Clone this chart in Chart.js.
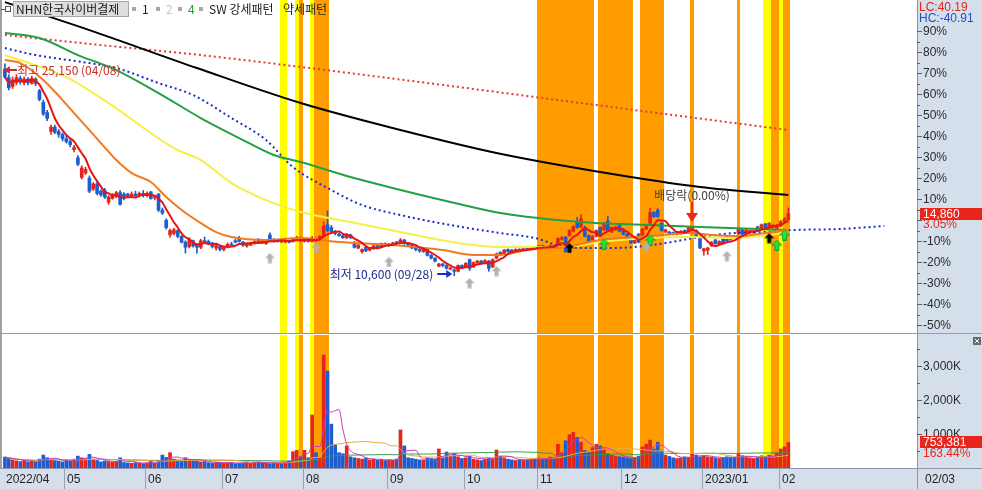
<!DOCTYPE html>
<html>
<head>
<meta charset="utf-8">
<script src="https://cdn.jsdelivr.net/npm/chart.js@4.4.1/dist/chart.umd.min.js"></script>
<style>
  body { margin: 0; background: #fff; }
  #wrap { position: relative; width: 982px; height: 489px; overflow: hidden; background: #fff; }
  canvas { position: absolute; left: 0; }
</style>
</head>
<body>
<div id="wrap">
  <canvas id="priceChart" width="982" height="334" style="top:0"></canvas>
  <canvas id="volChart" width="982" height="155" style="top:334px"></canvas>
</div>
<script>
// ---- 종목 / 날짜 ----
const stockName = 'NHN한국사이버결제';
const monthKeys = ['2022/04', '2022/05', '2022/06', '2022/07', '2022/08', '2022/09', '2022/10', '2022/11', '2022/12', '2023/01', '2023/02'];
const monthNames = ['2022/04', '05', '06', '07', '08', '09', '10', '11', '12', '2023/01', '02'];
const tradingDays = [
  [8, 11, 12, 13, 14, 15, 18, 19, 20, 21, 22, 25, 26, 27, 28, 29],
  [2, 3, 4, 6, 9, 10, 11, 12, 13, 16, 17, 18, 19, 20, 23, 24, 25, 26, 27, 30, 31],
  [2, 3, 7, 8, 9, 10, 13, 14, 15, 16, 17, 20, 21, 22, 23, 24, 27, 28, 29, 30],
  [1, 4, 5, 6, 7, 8, 11, 12, 13, 14, 15, 18, 19, 20, 21, 22, 25, 26, 27, 28, 29],
  [1, 2, 3, 4, 5, 8, 9, 10, 11, 12, 16, 17, 18, 19, 22, 23, 24, 25, 26, 29, 30, 31],
  [1, 2, 5, 6, 7, 8, 13, 14, 15, 16, 19, 20, 21, 22, 23, 26, 27, 28, 29, 30],
  [4, 5, 6, 7, 11, 12, 13, 14, 17, 18, 19, 20, 21, 24, 25, 26, 27, 28, 31],
  [1, 2, 3, 4, 7, 8, 9, 10, 11, 14, 15, 16, 17, 18, 21, 22, 23, 24, 25, 28, 29, 30],
  [1, 2, 5, 6, 7, 8, 9, 12, 13, 14, 15, 16, 19, 20, 21, 22, 23, 26, 27, 28, 29],
  [2, 3, 4, 5, 6, 9, 10, 11, 12, 13, 16, 17, 18, 19, 20, 25, 26, 27, 30, 31],
  [1, 2, 3]
];
const futureSlots = 33;

// ---- 일봉 (원) ----
const opens = [
  24800,24200,23600,23850,24150,23850,24100,23800,24100,23300,22500,21800,20500,20800,20500,20300,
  20000,19800,19250,18700,17350,17650,17300,16550,16900,16400,16450,15650,15900,16050,16300,16200,16200,16050,16200,16100,16250,
  16100,16350,15950,16200,15100,14400,13400,13500,13700,13300,12900,12600,13000,12700,12550,13000,12950,12850,12500,12600,
  12400,12550,12750,13000,13150,12900,12650,12700,12800,13100,13000,12800,13400,13100,12950,13050,12900,13000,12950,13100,13200,
  12950,13050,12950,13150,13050,13300,14100,13900,13600,13450,13350,13200,13400,12900,12500,12250,12550,12350,12450,12650,12550,12800,
  12700,12750,12900,12850,13050,12800,12700,12500,12400,12250,12400,12000,11800,11250,11400,11300,11050,11000,10900,11300,
  11200,11700,11200,11500,11600,11500,11600,11200,11800,12200,12100,12400,12350,12250,12400,12350,12450,12400,12550,
  12500,12650,12550,12500,12650,12700,13100,13250,13350,13650,14300,13950,13900,13350,13050,13300,13900,13750,14350,13600,13750,14050,
  13800,13450,13250,12850,13450,13250,13800,14200,14950,15100,14200,13600,13600,13550,13450,13500,13700,13650,13800,13700,13200,
  12300,12350,12650,13050,12750,13100,13250,13200,13300,13500,13750,13500,13550,13550,13950,13750,14150,13900,13950,13850,
  14000,14300,14450
];
const highs = [
  25150,24400,24250,24400,24300,24250,24200,24300,24200,23400,22650,21950,20950,20950,20650,20400,
  20250,19950,19550,18850,18150,18050,17450,17000,17050,16500,16600,16100,16250,16400,16450,16300,16250,16350,16400,16350,16450,
  16350,16400,16100,16250,15250,14500,13800,13850,13750,13350,13000,13200,13050,12800,13100,13250,13050,12900,12750,12650,
  12600,12850,12900,13100,13300,12950,12850,12900,13000,13150,13050,13050,13550,13150,13100,13100,13050,13050,13150,13300,13250,
  13100,13100,13300,13200,13350,14300,15050,14050,13700,13550,13400,13500,13450,12950,12750,12450,12600,12550,12700,12700,12850,12850,
  12800,12900,12950,13150,13100,12850,12750,12550,12450,12450,12450,12050,11850,11450,11450,11350,11200,11050,11350,11350,
  11500,11750,11550,11650,11650,11700,11650,11750,12150,12250,12400,12450,12400,12450,12450,12500,12500,12600,12600,
  12700,12700,12600,12700,12700,13200,13300,13300,13750,14050,14600,14800,14000,13400,13350,13750,13950,14250,14700,13950,14000,14100,
  13850,13500,13300,13100,13500,13850,14050,15250,15000,15200,14250,13800,13650,13600,13650,13700,13750,13950,14000,13750,13250,
  12500,12550,12950,13100,13000,13150,13300,13250,13350,13850,13800,13800,13750,13700,14000,14150,14200,14250,14100,14100,
  14400,14600,15250
];
const lows = [
  24150,23350,23450,23700,23750,23700,23700,23750,23650,22600,21600,21250,20300,20350,20100,19850,
  19700,19450,19100,18150,17250,17550,16300,16450,16150,16050,15900,15500,15850,15950,15450,15800,16000,15950,16050,16000,16000,
  16000,15850,15800,15000,14800,13800,13250,13400,13200,12850,12150,12500,12550,12150,12450,12850,12750,12500,12350,12300,
  12300,12500,12600,12850,12900,12600,12550,12650,12750,12850,12800,12750,13050,12900,12900,12850,12850,12850,12900,13050,12950,
  12900,12900,12900,12950,13000,13250,13600,13500,13400,13300,13150,13150,13150,12500,12450,12150,12250,12300,12400,12500,12500,12650,
  12600,12700,12800,12800,12750,12650,12450,12300,12200,12200,11950,11750,11550,11200,11200,11050,11000,10600,10850,11150,
  11150,10950,11150,11400,11400,11450,10900,11150,11750,12000,12050,12200,12200,12200,12300,12300,12350,12350,12450,
  12450,12500,12450,12450,12550,12650,13050,12200,13300,13600,13850,13900,13250,12900,13000,13250,13300,13700,13650,13550,13700,13600,
  13400,13100,12800,12800,12850,13200,13750,14150,14600,14600,13650,13550,13400,13400,13400,13450,13550,13600,13750,13250,12450,
  12000,12050,12600,12750,12700,12800,12950,13050,13150,13450,13400,13450,13500,13500,13650,13700,13800,13850,13900,13800,
  13950,14250,14400
];
const closes = [
  24250,23500,24050,24200,23900,24100,23850,24150,23800,22700,21700,21400,20800,20450,20300,20000,
  19800,19600,19400,18250,18000,17900,16400,16900,16250,16150,16000,16000,16150,16300,15500,15900,16100,16200,16100,16250,16100,
  16250,15900,16000,15100,14900,13900,13700,13750,13300,12900,12550,13100,12650,12550,13000,12900,12800,12600,12650,12400,
  12550,12750,12700,12900,12950,12700,12800,12850,12950,12900,12850,13000,13100,12950,13050,12950,13000,12900,13100,13200,13000,
  13050,12950,13150,13050,13300,14000,13700,13600,13500,13350,13200,13400,13200,12550,12700,12400,12300,12500,12650,12550,12800,12700,
  12750,12850,12850,13050,12800,12700,12500,12400,12300,12400,12000,11800,11600,11400,11300,11100,11100,10900,11300,11200,
  11450,11100,11500,11600,11450,11650,11100,11700,12100,12100,12350,12250,12250,12400,12350,12450,12400,12550,12500,
  12650,12550,12500,12650,12600,13150,13200,12250,13700,13950,13900,14500,13300,12950,13300,13700,13350,14200,13700,13900,13950,13650,
  13450,13150,12850,13050,12900,13800,14000,14950,14650,14650,13700,13750,13450,13450,13600,13650,13600,13900,13950,13300,12500,
  12450,12500,12900,12800,12950,12850,13000,13100,13200,13800,13450,13750,13700,13650,13700,14100,13850,14200,14050,14050,
  14300,14500,14860
];
// 거래량 (천주)
const volumes = [
  320,280,240,210,190,230,180,200,170,260,380,300,260,220,200,180,
  240,200,260,350,300,280,400,260,220,180,210,190,170,200,300,160,150,140,160,150,130,
  150,200,140,200,380,310,450,260,220,210,300,260,240,220,180,190,160,150,170,160,
  140,150,160,130,140,150,160,140,170,180,150,140,130,160,150,140,170,210,480,520,330,
  520,300,1560,450,300,3320,2850,1290,680,450,420,650,330,300,280,260,300,240,260,230,250,220,
  240,230,260,1120,650,300,280,260,240,230,300,280,260,560,300,470,350,420,330,280,
  300,350,260,240,220,260,300,280,530,350,300,260,240,220,250,230,240,260,280,
  300,280,260,320,300,700,450,800,980,1050,900,760,520,480,600,700,650,560,420,380,350,330,
  320,300,280,300,350,620,700,820,560,760,500,380,340,300,280,300,330,320,420,380,330,
  360,330,320,300,280,300,330,320,300,420,360,330,300,280,320,360,330,380,300,440,
  560,620,753.381
];

// ---- 이동평균선 (그림에서 읽은 값: [봉 위치, 가격]) ----
const lineRedDot = [[0,27124],[25,26437],[51,25750],[100,24171],[150,22454],[204,20600]];
const lineBlack = [[0,29390],[22,27467],[50,24858],[77,22454],[103,20600],[128,19021],[155,17716],[181,16686],[204,16137]];
const lineGreen = [[0,27261],[9,26918],[19,25750],[29,24721],[40,23141],[51,21424],[62,19914],[70,18884],[77,18403],[90,17373],[103,16480],[116,15656],[129,14901],[150,14283],[168,14077],[181,13939],[204,13733]];
const lineYellow = [[0,25750],[4,25407],[16,24240],[27,22454],[44,19364],[51,18540],[59,16961],[68,15793],[77,14969],[90,14283],[103,13596],[118,12841],[129,12566],[146,12566],[155,12909],[168,13184],[178,13253],[190,13184],[204,13527]];
const lineOrange = [[0,25407],[4,25201],[10,24034],[18,21767],[25,19707],[29,18540],[33,17647],[38,17029],[42,15999],[46,15107],[51,14214],[55,13596],[59,13253],[68,13047],[77,13184],[87,12909],[101,12703],[114,12360],[122,12017],[129,12017],[136,12360],[146,12566],[155,13047],[164,13253],[171,13390],[178,13527],[184,13390],[191,13321],[198,13527],[204,13733]];
const lineBlueDot = [[0,26231],[8,25750],[22,25201],[29,24858],[40,23828],[49,23004],[59,21424],[68,19914],[75,18060],[85,16480],[93,15450],[103,14763],[116,14077],[129,13527],[138,13184],[146,12566],[155,12497],[164,12566],[172,12841],[181,13253],[190,13527],[198,13596],[205,13733],[217,13802],[229,14008]];

// ---- 패턴 구간 [시작, 끝] / 신호 [봉 위치, 가격] ----
const strongBands = [[72,73],[76,76],[80,80],[198,199],[202,202]];
const weakBands = [[77,77],[81,84],[139,153],[155,163],[166,171],[179,179],[191,191],[200,201],[203,204]];
const greyUp = [[69,11810],[81,12500],[100,11540],[121,10090],[128,10920],[167,12570],[188,11950]];
const greenUp = [[156,12770],[168,13050],[201,12700],[203,13390]];
const blackUp = [[147,12500],[199,13180]];
const exDivIdx = 179;
const exDivText = '배당락(0.00%)';

const lastChangePct = 3.05;
const lcValue = 40.19, hcValue = -40.91;
const volRatioPct = 163.44;

// ---- 스타일 ----
const UP = '#e4251b', DOWN = '#1f5ccf';
const AXIS_BG = '#d5dfec';
const NUM_FONT = '12px "Liberation Sans", Arial, sans-serif';
const KR_FONT = '12px "Noto Sans CJK KR", sans-serif';

// ---- 테이블 구성 ----
const dates = [];
const monthStart = [];
tradingDays.forEach(function (days, m) {
    monthStart.push(dates.length);
    days.forEach(function (d) { dates.push(monthKeys[m] + '/' + String(d).padStart(2, '0')); });
});
const labels = dates.concat(Array.from({ length: futureSlots }, (_, i) => 'F' + (i + 1)));
const lastIdx = dates.length - 1;
const basePrice = closes[lastIdx] / (1 + lastChangePct / 100);
const pctToPrice = p => basePrice * (1 + p / 100);
const PCT_MAX = 104.8, PCT_MIN = -53.8;
const VOL_MAX = 3912;

const candleColors = closes.map((c, i) => c >= opens[i] ? UP : DOWN);

function sparse(points) {
    const arr = new Array(labels.length).fill(null);
    points.forEach(function (p) { arr[p[0]] = p[1]; });
    return arr;
}
function movingAvg(arr, n) {
    return arr.map(function (v, i) {
        const s = arr.slice(Math.max(0, i - n + 1), i + 1);
        return s.reduce((a, b) => a + b, 0) / s.length;
    });
}
function line(data, color, width, dash, order) {
    return {
        type: 'line', data: data, borderColor: color, borderWidth: width, borderDash: dash || [],
        pointRadius: 0, spanGaps: true, cubicInterpolationMode: 'monotone', order: order
    };
}
function arrowImg(fill, stroke) {
    const c = document.createElement('canvas');
    c.width = 11; c.height = 11;
    const g = c.getContext('2d');
    g.beginPath();
    g.moveTo(5.5, 0.5); g.lineTo(10.5, 5.5); g.lineTo(7.5, 5.5); g.lineTo(7.5, 10.5);
    g.lineTo(3.5, 10.5); g.lineTo(3.5, 5.5); g.lineTo(0.5, 5.5); g.closePath();
    g.fillStyle = fill; g.fill();
    if (stroke) { g.strokeStyle = stroke; g.lineWidth = 1; g.stroke(); }
    return c;
}
function fmt(n) { return Math.round(n).toLocaleString('en-US'); }

function drawBands(chart) {
    const ctx = chart.ctx, a = chart.chartArea, xs = chart.scales.x;
    const slot = xs.getPixelForValue(1) - xs.getPixelForValue(0);
    ctx.save();
    [[strongBands, '#ffff00'], [weakBands, '#ff9c00']].forEach(function (set) {
        ctx.fillStyle = set[1];
        set[0].forEach(function (b) {
            const x0 = Math.round(xs.getPixelForValue(b[0]) - slot / 2);
            const x1 = Math.round(xs.getPixelForValue(b[1]) + slot / 2);
            ctx.fillRect(x0, a.top, x1 - x0, a.bottom - a.top);
        });
    });
    ctx.restore();
}

function drawArrowLine(ctx, x0, x1, y, color) {
    const dir = x1 > x0 ? 1 : -1;
    ctx.strokeStyle = color; ctx.fillStyle = color; ctx.lineWidth = 2;
    ctx.beginPath(); ctx.moveTo(x0, y); ctx.lineTo(x1 - dir * 5, y); ctx.stroke();
    ctx.beginPath(); ctx.moveTo(x1, y); ctx.lineTo(x1 - dir * 6, y - 4); ctx.lineTo(x1 - dir * 6, y + 4); ctx.closePath(); ctx.fill();
}

const priceDeco = {
    id: 'priceDeco',
    beforeDraw(chart) {
        const ctx = chart.ctx, a = chart.chartArea;
        ctx.save();
        ctx.fillStyle = '#fff'; ctx.fillRect(0, 0, chart.width, chart.height);
        ctx.fillStyle = AXIS_BG; ctx.fillRect(a.right, 0, chart.width - a.right, chart.height);
        ctx.restore();
    },
    beforeDatasetsDraw(chart) { drawBands(chart); },
    afterDraw(chart) {
        const ctx = chart.ctx, a = chart.chartArea, xs = chart.scales.x, ys = chart.scales.y;
        ctx.save();
        // 테두리
        ctx.fillStyle = '#9b9b9b'; ctx.fillRect(0, a.bottom, chart.width, 1);
        ctx.fillStyle = '#a0a0a0'; ctx.fillRect(0, 0, 2, a.bottom);
        ctx.fillStyle = '#8d96a8'; ctx.fillRect(a.right, 0, 1, chart.height);

        // 오른쪽 % 축
        ctx.font = NUM_FONT; ctx.textBaseline = 'middle'; ctx.textAlign = 'left';
        for (let p = -50; p <= 100; p += 5) {
            const y = Math.round(ys.getPixelForValue(pctToPrice(p)));
            if (y < 26 || y > a.bottom - 2) continue;
            ctx.fillStyle = '#5a5f68';
            ctx.fillRect(a.right, y, p % 10 === 0 ? 5 : 3, 1);
            if (p % 10 === 0 && p !== 0 && p < 100) {
                ctx.fillStyle = '#2b2b2b';
                ctx.fillText(p + '%', a.right + 6, y + 0.5);
            }
        }
        ctx.fillStyle = '#e0261f'; ctx.fillText('LC:' + lcValue.toFixed(2), a.right + 2, 8);
        ctx.fillStyle = '#1e50c8'; ctx.fillText('HC:' + hcValue.toFixed(2), a.right + 2, 19);

        // 현재가 박스
        const yc = Math.round(ys.getPixelForValue(closes[lastIdx]));
        ctx.fillStyle = '#e8261c'; ctx.fillRect(a.right + 3, yc - 6, chart.width - a.right - 3, 12);
        ctx.fillStyle = '#fff'; ctx.fillText(fmt(closes[lastIdx]), a.right + 6, yc + 0.5);
        ctx.fillStyle = '#e8261c'; ctx.fillText(lastChangePct.toFixed(2) + '%', a.right + 6, yc + 11);

        // 최고 / 최저 표시
        const hiIdx = highs.indexOf(Math.max.apply(null, highs));
        const loIdx = lows.indexOf(Math.min.apply(null, lows));
        ctx.font = KR_FONT;
        const hx = xs.getPixelForValue(hiIdx), hy = Math.round(ys.getPixelForValue(highs[hiIdx])) + 6;
        drawArrowLine(ctx, hx + 12, hx - 1, hy, '#d42a22');
        ctx.fillStyle = '#c8302a'; ctx.textAlign = 'left';
        ctx.fillText('최고 ' + fmt(highs[hiIdx]) + ' (' + dates[hiIdx].slice(5) + ')', hx + 12, hy);
        const lx = xs.getPixelForValue(loIdx), ly = Math.round(ys.getPixelForValue(lows[loIdx])) - 2;
        drawArrowLine(ctx, lx - 17, lx - 2, ly, '#1530c8');
        ctx.fillStyle = '#1c2a8c'; ctx.textAlign = 'right';
        ctx.fillText('최저 ' + fmt(lows[loIdx]) + ' (' + dates[loIdx].slice(5) + ')', lx - 21, ly);

        // 배당락
        const dx = Math.round(xs.getPixelForValue(exDivIdx));
        const dy = Math.round(ys.getPixelForValue(highs[exDivIdx])) - 4;
        ctx.fillStyle = '#ee2a1e';
        ctx.fillRect(dx - 1, dy - 20, 2, 12);
        ctx.beginPath(); ctx.moveTo(dx - 6, dy - 9); ctx.lineTo(dx + 6, dy - 9); ctx.lineTo(dx, dy); ctx.closePath(); ctx.fill();
        ctx.fillStyle = '#404040'; ctx.textAlign = 'center';
        ctx.fillText(exDivText, dx, dy - 27);

        // 범례
        ctx.textAlign = 'left';
        ctx.fillStyle = '#555'; ctx.fillRect(1, 9, 4, 1);
        ctx.strokeStyle = '#555'; ctx.lineWidth = 1; ctx.strokeRect(5.5, 6.5, 5, 5);
        ctx.fillStyle = '#dedede'; ctx.fillRect(13, 1, 116, 16);
        ctx.strokeStyle = '#a5a5a5'; ctx.strokeRect(13.5, 1.5, 115, 15);
        ctx.fillStyle = '#1a1a1a'; ctx.fillText(stockName, 16, 9.5);
        const legendItems = [['1', '#222', 132], ['2', '#c4c4c4', 156], ['4', '#21a321', 178], ['SW 강세패턴', '#222', 199]];
        legendItems.forEach(function (it) {
            ctx.fillStyle = '#a8a8a8'; ctx.fillRect(it[2], 7, 4, 4);
            ctx.fillStyle = it[1]; ctx.fillText(it[0], it[2] + 10, 9.5);
        });
        ctx.fillStyle = '#222'; ctx.fillText('약세패턴', 283, 9.5);
        ctx.restore();
    }
};

const volDeco = {
    id: 'volDeco',
    beforeDraw(chart) {
        const ctx = chart.ctx, a = chart.chartArea;
        ctx.save();
        ctx.fillStyle = '#fff'; ctx.fillRect(0, 0, chart.width, chart.height);
        ctx.fillStyle = AXIS_BG;
        ctx.fillRect(a.right, 0, chart.width - a.right, chart.height);
        ctx.fillRect(0, a.bottom, chart.width, chart.height - a.bottom);
        ctx.restore();
    },
    beforeDatasetsDraw(chart) { drawBands(chart); },
    afterDraw(chart) {
        const ctx = chart.ctx, a = chart.chartArea, xs = chart.scales.x, ys = chart.scales.y;
        const slot = xs.getPixelForValue(1) - xs.getPixelForValue(0);
        ctx.save();
        ctx.fillStyle = '#a0a0a0'; ctx.fillRect(0, 0, 2, a.bottom);
        ctx.fillStyle = '#8d96a8';
        ctx.fillRect(a.right, 0, 1, chart.height);
        ctx.fillRect(0, a.bottom, chart.width, 1);

        // 거래량 축
        ctx.font = NUM_FONT; ctx.textBaseline = 'middle'; ctx.textAlign = 'left';
        for (let v = 500; v <= 3500; v += 500) {
            const y = Math.round(ys.getPixelForValue(v));
            ctx.fillStyle = '#5a5f68';
            ctx.fillRect(a.right, y, v % 1000 === 0 ? 5 : 3, 1);
            if (v % 1000 === 0) {
                ctx.fillStyle = '#2b2b2b';
                ctx.fillText(fmt(v / 1000) + ',000K', a.right + 6, y + 0.5);
            }
        }
        const lastVol = volumes[lastIdx];
        const yv = Math.round(ys.getPixelForValue(lastVol));
        ctx.fillStyle = '#e8261c'; ctx.fillRect(a.right + 3, yv - 6, chart.width - a.right - 3, 12);
        ctx.fillStyle = '#fff'; ctx.fillText(fmt(lastVol * 1000), a.right + 6, yv + 0.5);
        ctx.fillStyle = '#e8261c'; ctx.fillText(volRatioPct.toFixed(2) + '%', a.right + 6, yv + 12);

        // 닫기 버튼
        ctx.fillStyle = '#6a6a6a'; ctx.fillRect(973, 3, 8, 8);
        ctx.strokeStyle = '#fff'; ctx.lineWidth = 1;
        ctx.beginPath(); ctx.moveTo(975, 5); ctx.lineTo(979, 9); ctx.moveTo(979, 5); ctx.lineTo(975, 9); ctx.stroke();

        // 날짜 축
        ctx.fillStyle = '#1f1f1f';
        const yMid = (a.bottom + chart.height) / 2 + 1;
        monthStart.forEach(function (m, k) {
            const x = Math.round(xs.getPixelForValue(m) - slot / 2);
            if (k > 0) { ctx.fillStyle = '#98a1b3'; ctx.fillRect(x, a.bottom, 1, chart.height - a.bottom); }
            ctx.fillStyle = '#1f1f1f';
            ctx.fillText(monthNames[k], x + 3, yMid);
        });
        ctx.fillText(dates[lastIdx].slice(5), a.right + 8, yMid);
        ctx.restore();
    }
};

const ma5 = movingAvg(closes, 5);

new Chart(document.getElementById('priceChart'), {
    type: 'bar',
    data: {
        labels: labels,
        datasets: [
            { type: 'line', data: sparse(greyUp), showLine: false, pointStyle: arrowImg('#b2b2b2'), pointRadius: 6, order: 0 },
            { type: 'line', data: sparse(greenUp), showLine: false, pointStyle: arrowImg('#22e040', '#17a52c'), pointRadius: 6, order: 0 },
            { type: 'line', data: sparse(blackUp), showLine: false, pointStyle: arrowImg('#000'), pointRadius: 6, order: 0 },
            line(ma5, '#e8140e', 2, [], 1),
            line(sparse(lineOrange), '#f07a22', 2, [], 2),
            line(sparse(lineYellow), '#f6f046', 2, [], 3),
            line(sparse(lineGreen), '#23a045', 2, [], 4),
            line(sparse(lineBlueDot), '#1b2fc4', 2, [2, 3], 5),
            line(sparse(lineBlack), '#000000', 2, [], 6),
            line(sparse(lineRedDot), '#e23a3a', 2, [2, 3], 7),
            { type: 'bar', data: opens.map((o, i) => [o, closes[i]]), backgroundColor: candleColors,
              barThickness: 3, grouped: false, minBarLength: 1, borderWidth: 0, order: 10 },
            { type: 'bar', data: lows.map((l, i) => [l, highs[i]]), backgroundColor: candleColors,
              barThickness: 1, grouped: false, borderWidth: 0, order: 11 }
        ]
    },
    options: {
        responsive: false, animation: false, devicePixelRatio: 1,
        layout: { autoPadding: false, padding: { left: 3, right: 65, top: 0, bottom: 1 } },
        plugins: { legend: { display: false }, tooltip: { enabled: false } },
        scales: {
            x: { type: 'category', display: false, offset: true },
            y: { display: false, min: pctToPrice(PCT_MIN), max: pctToPrice(PCT_MAX) }
        }
    },
    plugins: [priceDeco]
});

new Chart(document.getElementById('volChart'), {
    type: 'bar',
    data: {
        labels: labels,
        datasets: [
            line(movingAvg(volumes, 5), '#c43bc4', 1, [], 1),
            line(movingAvg(volumes, 20), '#e8ad3a', 1, [], 2),
            line(movingAvg(volumes, 60), '#2f9e44', 1, [], 3),
            { type: 'bar', data: volumes, backgroundColor: candleColors, barThickness: 3, borderWidth: 0, order: 10 }
        ]
    },
    options: {
        responsive: false, animation: false, devicePixelRatio: 1,
        layout: { autoPadding: false, padding: { left: 3, right: 65, top: 1, bottom: 21 } },
        plugins: { legend: { display: false }, tooltip: { enabled: false } },
        scales: {
            x: { type: 'category', display: false, offset: true },
            y: { display: false, min: 0, max: VOL_MAX }
        }
    },
    plugins: [volDeco]
});
</script>
</body>
</html>
